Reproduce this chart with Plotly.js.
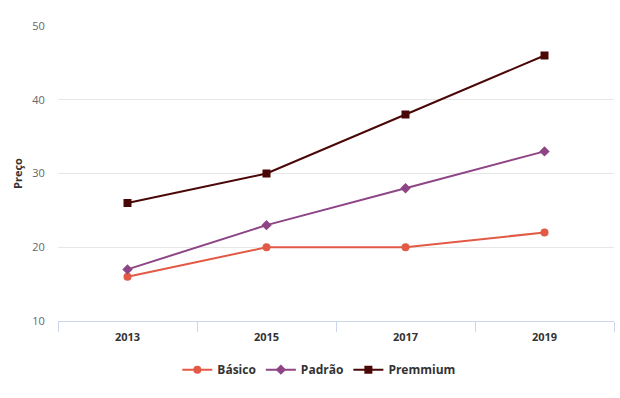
<!DOCTYPE html>
<html>
<head>
<meta charset="utf-8">
<script src="https://cdn.plot.ly/plotly-3.0.1.min.js"></script>
<style>html,body{margin:0;padding:0;background:#fff;}#chart{width:620px;height:398px;}</style>
</head>
<body>
<div id="chart"></div>
<script>
const years = ['2013', '2015', '2017', '2019'];
const basico = [16, 20, 20, 22];
const padrao = [17, 23, 28, 33];
const premmium = [26, 30, 38, 46];
const seriesNames = ['Básico', 'Padrão', 'Premmium'];

const font = 'Open Sans, sans-serif';
const traces = [
  {x: years, y: basico, name: seriesNames[0], type: 'scatter', mode: 'lines+markers',
   line: {color: '#e25a45', width: 2}, marker: {symbol: 'circle', size: 8, color: '#e25a45'}},
  {x: years, y: padrao, name: seriesNames[1], type: 'scatter', mode: 'lines+markers',
   line: {color: '#8e4585', width: 2}, marker: {symbol: 'diamond', size: 8, color: '#8e4585'}},
  {x: years, y: premmium, name: seriesNames[2], type: 'scatter', mode: 'lines+markers',
   line: {color: '#4a0707', width: 2}, marker: {symbol: 'square', size: 8, color: '#4a0707'}}
];

const layout = {
  width: 620, height: 398,
  margin: {l: 58, r: 6, t: 26, b: 77},
  paper_bgcolor: '#fff', plot_bgcolor: '#fff',
  font: {family: font, color: '#666', size: 11},
  showlegend: true,
  legend: {orientation: 'h', x: 0.47, xanchor: 'center', y: -0.165, yanchor: 'middle',
           font: {family: font, size: 12, color: '#333', weight: 'bold'}, itemwidth: 30},
  xaxis: {type: 'category', range: [-0.5, 3.5], showgrid: false, zeroline: false,
          showline: true, linecolor: '#ccd6eb', linewidth: 1,
          ticks: 'outside', tickson: 'boundaries', ticklen: 10, tickcolor: '#ccd6eb',
          ticklabelstandoff: 6,
          tickfont: {family: font, size: 11, color: '#333', weight: 'bold'}, fixedrange: true},
  yaxis: {range: [10, 50], tickvals: [10, 20, 30, 40, 50], showgrid: true, gridcolor: '#e6e6e6',
          zeroline: false, showline: false, ticks: 'outside', ticklen: 10, tickcolor: 'rgba(0,0,0,0)',
          tickfont: {family: font, size: 11, color: '#666'},
          title: {text: 'Preço', font: {family: font, size: 11, color: '#333', weight: 'bold'}, standoff: 7}}
};
Plotly.newPlot('chart', traces, layout, {displayModeBar: false, staticPlot: true});
</script>
</body>
</html>
